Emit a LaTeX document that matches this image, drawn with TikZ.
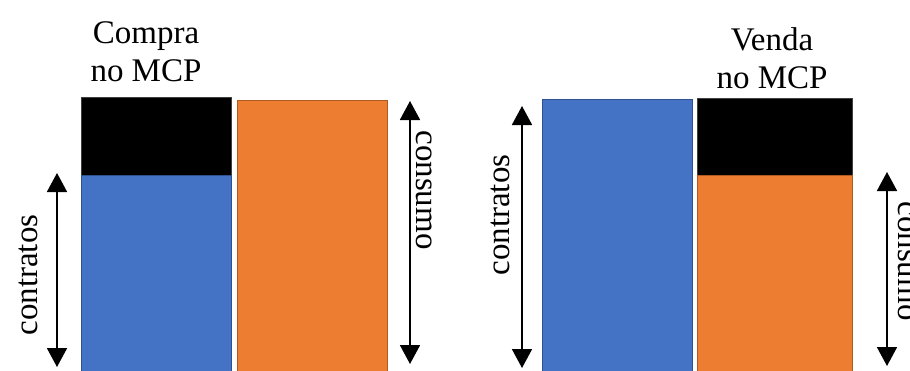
\documentclass[tikz,border=0pt]{standalone}
\usepackage{fontspec}
\setmainfont{Liberation Serif}
\usetikzlibrary{arrows.meta}
\definecolor{cblue}{HTML}{4472C4}
\definecolor{cblueb}{HTML}{2F528F}
\definecolor{corange}{HTML}{ED7D31}
\definecolor{coranb}{HTML}{AE5A21}
\definecolor{cblackb}{HTML}{404040}
\tikzset{
  bluebar/.style={fill=cblue,draw=cblueb,line width=0.8pt},
  orangebar/.style={fill=corange,draw=coranb,line width=0.8pt},
  blackbar/.style={fill=black,draw=cblackb,line width=0.8pt},
  dblarrow/.style={line width=1.8pt,{Triangle[width=20pt,length=19pt]}-{Triangle[width=20pt,length=19pt]}},
  lbl/.style={inner sep=0pt,font=\fontsize{33}{38}\selectfont},
  toplbl/.style={lbl,align=center}
}
\begin{document}
\begin{tikzpicture}[x=1pt,y=-1pt]
\useasboundingbox (0,0) rectangle (910,370);
\clip (0,0) rectangle (910,370);
\fill[white] (0,0) rectangle (910,370);
% left group
\draw[blackbar] (81,97) rectangle (231,175);
\draw[bluebar] (81,175) rectangle (231,375);
\draw[orangebar] (237,100) rectangle (387,375);
\node[toplbl] (compra) at (146,52) {Compra\\no MCP};
\coordinate (c1t) at (57,173);
\coordinate (c1b) at (57,367);
\draw[dblarrow] (c1t) -- (c1b);
\node[lbl,rotate=90] (contr1) at (28,275) {contratos};
\coordinate (s1t) at (410,101);
\coordinate (s1b) at (410,364);
\draw[dblarrow] (s1t) -- (s1b);
\node[lbl,rotate=-90] (cons1) at (424,190) {consumo};
% right group
\draw[bluebar] (542,99) rectangle (692,375);
\draw[blackbar] (697,98) rectangle (852,175);
\draw[orangebar] (697,175) rectangle (852,375);
\node[toplbl] (venda) at (772,58) {Venda\\no MCP};
\coordinate (c2t) at (522,106);
\coordinate (c2b) at (522,368);
\draw[dblarrow] (c2t) -- (c2b);
\node[lbl,rotate=90] (contr2) at (500,215) {contratos};
\coordinate (s2t) at (887,172);
\coordinate (s2b) at (887,366);
\draw[dblarrow] (s2t) -- (s2b);
\node[lbl,rotate=-90] (cons2) at (906,261) {consumo};
\end{tikzpicture}
\end{document}
